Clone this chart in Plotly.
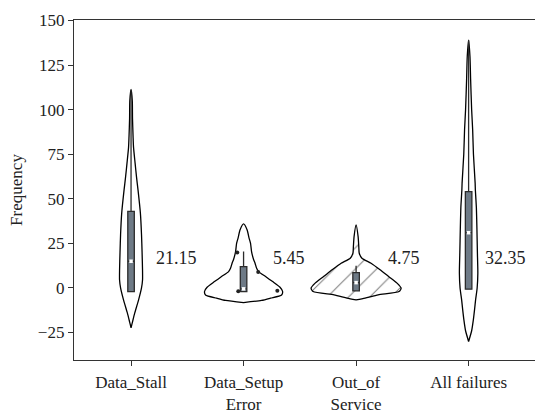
import plotly.graph_objects as go

categories = ["Data_Stall", "Data_Setup<br>Error", "Out_of<br>Service", "All failures"]

# violin outlines: value levels and half-widths (in category units)
stall_y = [111.4, 105, 95, 85, 79, 70, 62, 55, 42, 30, 20, 10, 4.5, 0, -6.7, -14, -19, -22.4]
stall_w = [0, 0.011, 0.013, 0.018, 0.022, 0.036, 0.049, 0.062, 0.083, 0.093, 0.098, 0.102, 0.102, 0.093, 0.067, 0.033, 0.013, 0]

setup_y = [35.9, 32.6, 28, 25, 20.4, 16, 13.9, 11, 9.2, 6.4, 3.6, 0.4, -2, -3.9, -5.7, -7, -8.2]
setup_w = [0, 0.031, 0.049, 0.062, 0.071, 0.089, 0.102, 0.116, 0.133, 0.196, 0.258, 0.324, 0.347, 0.338, 0.24, 0.16, 0]

oos_y = [35.4, 28.8, 23.2, 19.5, 16.7, 13.9, 10.2, 6.4, 2.7, -0.1, -2, -3.9, -5.7, -6.7]
oos_w = [0, 0.018, 0.024, 0.028, 0.052, 0.133, 0.213, 0.289, 0.364, 0.4, 0.382, 0.196, 0.08, 0]

all_y = [139, 130, 116.7, 100, 88.7, 75, 58.8, 55, 45, 32.6, 20, 8.3, 0, -6.7, -12, -17.9, -24, -30]
all_w = [0, 0.012, 0.018, 0.027, 0.036, 0.043, 0.058, 0.06, 0.069, 0.074, 0.078, 0.082, 0.076, 0.062, 0.053, 0.042, 0.027, 0]

# box statistics
q1 = [-2, -2, -1.6, -0.7]
median = [15, -0.5, 3, 31]
q3 = [43, 12, 8.6, 54]
lowerfence = [-2, -2, -1.6, -0.7]
upperfence = [111, 20.4, 12.4, 139]

# mean labels
labels = ["21.15", "5.45", "4.75", "32.35"]
label_y = [16.6, 16.6, 16.6, 16.6]
label_dx = [0.2, 0.245, 0.265, 0.125]

# scattered points on Data_Setup Error
pt_dx = [-0.056, 0.13, -0.047, 0.30]
pt_y = [19.9, 9.0, -1.8, -1.6]

outlines = [(stall_y, stall_w), (setup_y, setup_w), (oos_y, oos_w), (all_y, all_w)]

XR = [-0.507, 3.59]
YR = [-40.4, 150.3]
FAM = "Liberation Serif, Times New Roman, serif"

fig = go.Figure()
for i, (ys, ws) in enumerate(outlines):
    xs = [i + w for w in ws] + [i - w for w in reversed(ws)]
    yy = list(ys) + list(reversed(ys))
    kw = {}
    if i == 2:
        kw["fillpattern"] = dict(shape="/", size=15, solidity=0.07, fgcolor="black", bgcolor="white")
    fig.add_trace(go.Scatter(x=xs, y=yy, mode="lines", fill="toself", fillcolor="white",
                             line=dict(color="black", width=1.3, shape="spline", smoothing=0.6),
                             showlegend=False, hoverinfo="skip", **kw))

fig.add_trace(go.Scatter(x=[1 + d for d in pt_dx], y=pt_y, mode="markers",
                         marker=dict(size=4, color="#222"), showlegend=False, hoverinfo="skip"))

for i in range(4):
    fig.add_trace(go.Box(x=[i], q1=[q1[i]], median=[median[i]], q3=[q3[i]],
                         lowerfence=[lowerfence[i]], upperfence=[upperfence[i]],
                         width=0.058, whiskerwidth=0, fillcolor="#6e7a86",
                         line=dict(color="#2b2b2b", width=1.3), showlegend=False,
                         hoverinfo="skip", xaxis="x2", yaxis="y2"))

fig.add_trace(go.Scatter(x=list(range(4)), y=median, mode="markers",
                         marker=dict(symbol="square", size=3.5, color="white", line=dict(width=0)),
                         showlegend=False, hoverinfo="skip", xaxis="x2", yaxis="y2"))

for i in range(4):
    fig.add_annotation(x=i + label_dx[i], y=label_y[i], text=labels[i], showarrow=False,
                       xanchor="left", yanchor="middle", xref="x", yref="y",
                       font=dict(family=FAM, size=18, color="#222"))

font = dict(family=FAM, size=17, color="#222")
fig.update_layout(
    width=535, height=414,
    margin=dict(l=74, r=0, t=19.5, b=54),
    paper_bgcolor="white", plot_bgcolor="white",
    boxmode="overlay",
    font=font,
    showlegend=False,
    xaxis=dict(range=XR, tickvals=[0, 1, 2, 3], ticktext=categories, automargin=False,
               showgrid=False, zeroline=False, showline=True, linecolor="#333", linewidth=1.3,
               mirror=True, ticks="outside", ticklen=5, tickcolor="#333", tickfont=font,
               ticklabelstandoff=1),
    yaxis=dict(range=YR, tickvals=[-25, 0, 25, 50, 75, 100, 125, 150], automargin=False,
               ticktext=["\u221225", "0", "25", "50", "75", "100", "125", "150"],
               showgrid=False, zeroline=False, showline=True, linecolor="#333", linewidth=1.3,
               ticks="outside", ticklen=5, tickcolor="#333", tickfont=font,
               title=dict(text="Frequency", font=font, standoff=10)),
    xaxis2=dict(range=XR, overlaying="x", visible=False, automargin=False),
    yaxis2=dict(range=YR, overlaying="y", visible=False, automargin=False),
)

fig.write_html("out.html", config={"displayModeBar": False},
               post_script="document.body.style.margin='0';document.body.style.overflow='hidden';")
